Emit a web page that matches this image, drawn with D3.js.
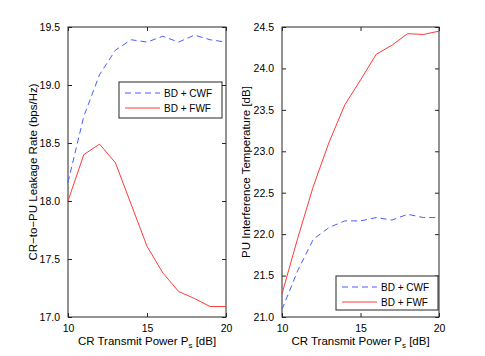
<!DOCTYPE html>
<html>
<meta charset="utf-8">
<style>
  body { margin: 0; padding: 0; background: #fff; }
  svg { display: block; }
  text { font-family: "Liberation Sans", Arial, sans-serif; fill: #000; }
  .line { fill: none; stroke-width: 1px; }
</style>
<body>
<svg id="chart" width="485" height="356"></svg>
<script src="https://cdn.jsdelivr.net/npm/d3@7"></script>
<script>
// data
var power = [10, 11, 12, 13, 14, 15, 16, 17, 18, 19, 20];

var leakCWF = [18.16, 18.73, 19.09, 19.30, 19.39, 19.37, 19.42, 19.37, 19.43, 19.39, 19.37];
var leakFWF = [18.00, 18.40, 18.49, 18.33, 17.97, 17.61, 17.38, 17.22, 17.16, 17.09, 17.09];

var tempCWF = [21.09, 21.56, 21.94, 22.08, 22.16, 22.16, 22.20, 22.17, 22.24, 22.20, 22.20];
var tempFWF = [21.28, 21.95, 22.58, 23.11, 23.56, 23.86, 24.17, 24.28, 24.42, 24.41, 24.45];

var xTicks = [10, 15, 20];
var leakTicks = [17, 17.5, 18, 18.5, 19, 19.5];
var tempTicks = [21, 21.5, 22, 22.5, 23, 23.5, 24, 24.5];

var seriesNames = ["BD + CWF", "BD + FWF"];
var blue = "#4a5cff", red = "#ff3a3a";

var svg = d3.select("#chart");

function panel(opts) {
  var g = svg.append("g");
  var x = d3.scaleLinear().domain([10, 20]).range([opts.left, opts.right]);
  var y = d3.scaleLinear().domain(opts.ydom).range([opts.bottom, opts.top]);
  var tk = 4;

  // box
  g.append("rect")
    .attr("x", opts.left).attr("y", opts.top)
    .attr("width", opts.right - opts.left).attr("height", opts.bottom - opts.top)
    .attr("fill", "none").attr("stroke", "#262626").attr("stroke-width", 1);

  // ticks, inward on all four sides
  function axis(a, tr) {
    var ax = g.append("g").attr("transform", tr).call(a);
    ax.select(".domain").remove();
    ax.selectAll("line").attr("stroke", "#262626");
    ax.selectAll("text").style("font-size", "10.5px").attr("fill", "#000");
    return ax;
  }
  axis(d3.axisBottom(x).tickValues(xTicks).tickSize(-tk).tickPadding(8), "translate(0," + opts.bottom + ")");
  axis(d3.axisTop(x).tickValues(xTicks).tickSize(-tk).tickFormat(""), "translate(0," + opts.top + ")");
  axis(d3.axisLeft(y).tickValues(opts.yticks).tickSize(-tk).tickPadding(8), "translate(" + opts.left + ",0)");
  axis(d3.axisRight(y).tickValues(opts.yticks).tickSize(-tk).tickFormat(""), "translate(" + opts.right + ",0)");

  var line = d3.line()
    .x(function(d, i) { return x(power[i]); })
    .y(function(d) { return y(d); });

  g.append("path").attr("class", "line")
    .attr("d", line(opts.cwf))
    .attr("stroke", blue).attr("stroke-dasharray", "6,4");
  g.append("path").attr("class", "line")
    .attr("d", line(opts.fwf))
    .attr("stroke", red);

  // x label
  var xl = g.append("text")
    .attr("x", (opts.left + opts.right) / 2).attr("y", 345)
    .attr("text-anchor", "middle").style("font-size", "11.5px");
  xl.append("tspan").text("CR Transmit Power P");
  xl.append("tspan").attr("dy", 3).style("font-size", "8px").text("s");
  xl.append("tspan").attr("dy", -3).text(" [dB]");

  // y label
  g.append("text")
    .attr("transform", "translate(" + opts.ylabX + "," + ((opts.top + opts.bottom) / 2) + ") rotate(-90)")
    .attr("text-anchor", "middle").style("font-size", "11.5px")
    .text(opts.ylabel);

  // legend
  var L = opts.legend;
  var lg = g.append("g");
  lg.append("rect")
    .attr("x", L.x).attr("y", L.y).attr("width", L.w).attr("height", L.h)
    .attr("fill", "#fff").attr("stroke", "#262626").attr("stroke-width", 1);
  seriesNames.forEach(function(name, i) {
    var yy = L.y + 11 + i * 15;
    lg.append("line")
      .attr("x1", L.x + 6).attr("x2", L.x + 41).attr("y1", yy).attr("y2", yy)
      .attr("stroke", i === 0 ? blue : red).attr("stroke-width", 1)
      .attr("stroke-dasharray", i === 0 ? "6,4" : null);
    lg.append("text")
      .attr("x", L.x + 45).attr("y", yy).attr("dy", "0.35em")
      .style("font-size", "10px").text(name);
  });
}

panel({
  left: 68, right: 226, top: 27, bottom: 317,
  ydom: [17, 19.5], yticks: leakTicks,
  cwf: leakCWF, fwf: leakFWF,
  ylabel: "CR\u2212to\u2212PU Leakage Rate (bps/Hz)", ylabX: 37,
  legend: {x: 119, y: 82, w: 103, h: 36}
});

panel({
  left: 282, right: 439, top: 27, bottom: 317,
  ydom: [21, 24.5], yticks: tempTicks,
  cwf: tempCWF, fwf: tempFWF,
  ylabel: "PU Interference Temperature [dB]", ylabX: 250,
  legend: {x: 336, y: 276, w: 102, h: 34}
});
</script>
</body>
</html>
